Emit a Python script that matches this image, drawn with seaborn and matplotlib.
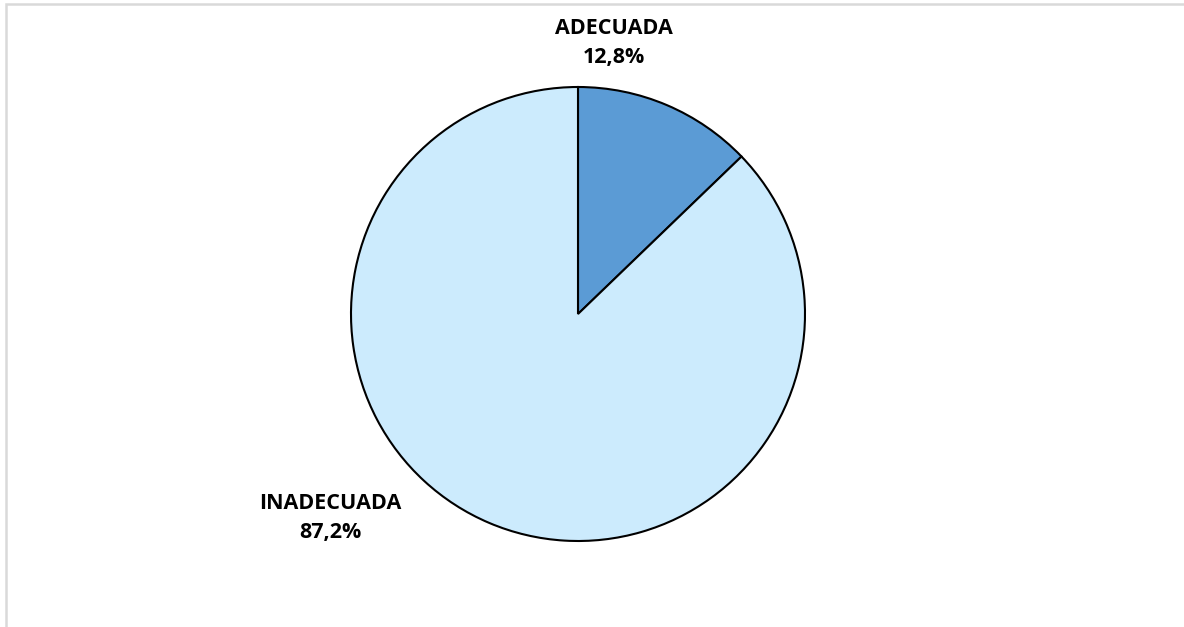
import matplotlib
matplotlib.use("Agg")
import matplotlib.pyplot as plt
from matplotlib.patches import Rectangle
import seaborn as sns

categories = ["ADECUADA", "INADECUADA"]
percentages = [12.8, 87.2]
slice_colors = ["#5B9BD5", "#CCEBFD"]

sns.set_theme(style="white")
plt.rcParams["font.family"] = ["Open Sans", "DejaVu Sans"]

W, H, DPI = 1184, 627, 100
fig = plt.figure(figsize=(W / DPI, H / DPI), dpi=DPI)
fig.patch.set_facecolor("white")

# light grey chart frame
fig.add_artist(Rectangle((5.5 / W, -0.05), 1.1, (H - 3.5) / H + 0.05,
                         transform=fig.transFigure, fill=False,
                         edgecolor="#D9D9D9", linewidth=1.8))

cx, cy, r = 578, 314, 227
ax = fig.add_axes([(cx - r) / W, (H - cy - r) / H, 2 * r / W, 2 * r / H])
ax.pie(percentages, colors=slice_colors, startangle=90, counterclock=False,
       wedgeprops=dict(edgecolor="black", linewidth=1.5), radius=1.0)
ax.set_xlim(-1, 1)
ax.set_ylim(-1, 1)
ax.set_aspect("equal")
ax.axis("off")

label_pos = {"ADECUADA": (614, 43), "INADECUADA": (330, 518)}
for name, pct in zip(categories, percentages):
    px, py = label_pos[name]
    fig.text(px / W, 1 - py / H,
             f"{name}\n{pct:.1f}%".replace(".", ","),
             ha="center", va="center", fontsize=15.5, fontweight="bold",
             color="black", linespacing=1.45)

fig.savefig("out.png", dpi=DPI)
